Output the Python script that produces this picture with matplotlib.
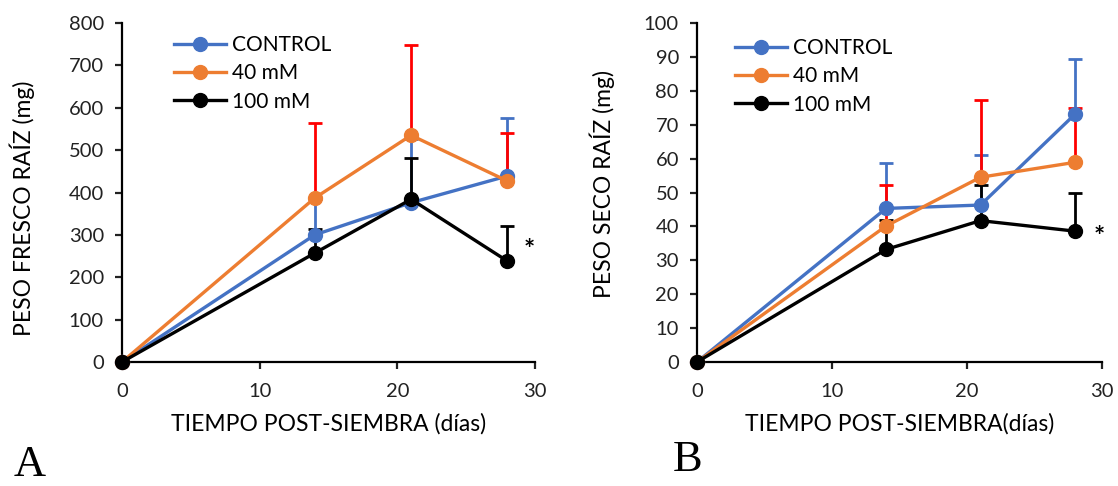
import matplotlib
matplotlib.use('Agg')
import matplotlib.pyplot as plt

plt.rcParams['font.family'] = ['Lato', 'DejaVu Sans']

dias = [0, 14, 21, 28]
series = ['CONTROL', '40 mM', '100 mM']

# peso fresco raiz (mg)
fresco_control = [0, 300, 376, 439]
fresco_40 = [0, 387, 535, 427]
fresco_100 = [0, 257, 384, 238]
fresco_control_err = [0, 85, 150, 136]
fresco_40_err = [0, 176, 214, 114]
fresco_100_err = [0, 56, 98, 83]

# peso seco raiz (mg)
seco_control = [0, 45.3, 46.3, 73.1]
seco_40 = [0, 40.1, 54.5, 58.9]
seco_100 = [0, 33.2, 41.7, 38.6]
seco_control_err = [0, 13.3, 14.7, 16.3]
seco_40_err = [0, 12.2, 22.8, 15.9]
seco_100_err = [0, 8.7, 10.5, 11.4]

line_colors = ['#4472C4', '#ED7D31', '#000000']
err_colors = ['#4472C4', '#FF0000', '#000000']

fig = plt.figure(figsize=(11.18, 4.86), dpi=100)
W, H = 1118, 486
axA = fig.add_axes([122 / W, 1 - 362 / H, (535 - 122) / W, (362 - 23) / H])
axB = fig.add_axes([697 / W, 1 - 362 / H, (1102 - 697) / W, (362 - 23) / H])


def draw(ax, vals, errs, ylim, ystep, ylabel, xlabel, star, ylab_pos, leg_pos):
    for i in range(3):
        ax.errorbar(dias, vals[i], yerr=[[0] * 4, errs[i]], fmt='none',
                    ecolor=err_colors[i], elinewidth=2, capsize=5, capthick=2,
                    zorder=2)
    for i in range(3):
        ax.plot(dias, vals[i], '-o', color=line_colors[i], lw=2.4, ms=10,
                label=series[i], zorder=3, clip_on=False)
    ax.set_xlim(0, 30)
    ax.set_ylim(0, ylim)
    ax.set_xticks([0, 10, 20, 30])
    ax.set_yticks(range(0, ylim + 1, ystep))
    for s in ['top', 'right']:
        ax.spines[s].set_visible(False)
    for s in ['left', 'bottom']:
        ax.spines[s].set_linewidth(1.6)
    ax.tick_params(direction='out', length=5, width=1.6, labelsize=14.5,
                   colors='#222222', pad=8)
    ax.tick_params(axis='x', pad=10)
    ax.set_ylabel(ylabel, fontsize=16.5)
    ax.yaxis.set_label_coords(*ylab_pos)
    ax.set_xlabel(xlabel, fontsize=16.5)
    ax.xaxis.set_label_coords(0.5, -0.15)
    ax.text(star[0], star[1], '*', fontsize=19, ha='center', va='center',
            fontweight='bold')
    ax.legend(loc='upper left', bbox_to_anchor=leg_pos, frameon=False,
              fontsize=15, handlelength=2.5, handletextpad=0.3,
              labelspacing=0.4, borderaxespad=0, borderpad=0)


draw(axA, [fresco_control, fresco_40, fresco_100],
     [fresco_control_err, fresco_40_err, fresco_100_err],
     800, 100, 'PESO FRESCO RAÍZ (mg)', 'TIEMPO POST-SIEMBRA (días)',
     (29.6, 265), (-0.211, 0.454), (0.126, 0.965))
draw(axB, [seco_control, seco_40, seco_100],
     [seco_control_err, seco_40_err, seco_100_err],
     100, 10, 'PESO SECO RAÍZ (mg)', 'TIEMPO POST-SIEMBRA(días)',
     (29.8, 37), (-0.202, 0.525), (0.094, 0.956))

fig.text(30 / W, 1 - 465 / H, 'A', fontsize=32, family='Liberation Serif',
         ha='center', va='center')
fig.text(688 / W, 1 - 460 / H, 'B', fontsize=32, family='Liberation Serif',
         ha='center', va='center')

fig.savefig('out.png', dpi=100)
